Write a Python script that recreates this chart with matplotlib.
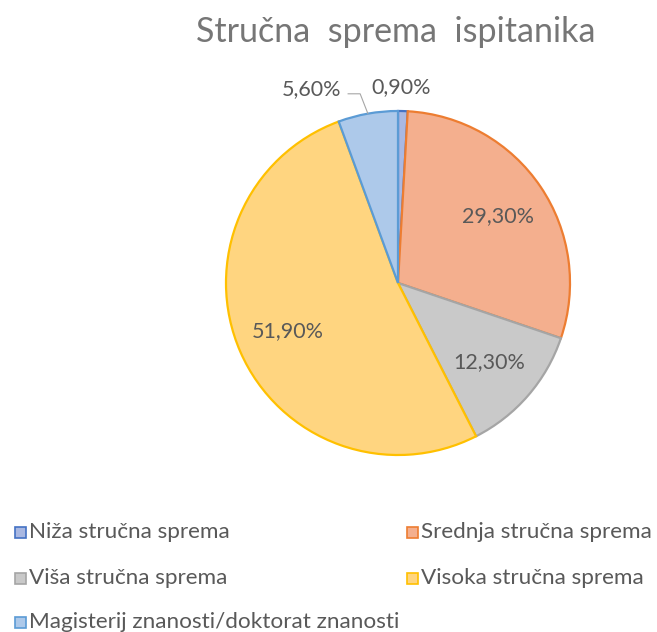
"""Stručna sprema ispitanika - pie chart."""

import matplotlib.pyplot as plt
import numpy as np
from matplotlib.patches import Rectangle

plt.rcParams["font.family"] = ["Lato", "DejaVu Sans"]

categories = [
    "Niža stručna sprema",
    "Srednja stručna sprema",
    "Viša stručna sprema",
    "Visoka stručna sprema",
    "Magisterij znanosti/doktorat znanosti",
]
values = [0.9, 29.3, 12.3, 51.9, 5.6]
labels = ["0,90%", "29,30%", "12,30%", "51,90%", "5,60%"]

fills = ["#A9B8E2", "#F4AF8E", "#C9C9C9", "#FFD580", "#ADC9EA"]
edges = ["#4472C4", "#ED7D31", "#A5A5A5", "#FFC000", "#5B9BD5"]
text_col = "#595959"

W, H = 657, 632
fig = plt.figure(figsize=(W / 100, H / 100), dpi=100)

cx, cy, r = 398, 283, 172
ax = fig.add_axes([(cx - r) / W, 1 - (cy + r) / H, 2 * r / W, 2 * r / H])
wedges, _ = ax.pie(values, colors=fills, startangle=90, counterclock=False,
                   radius=1.0, wedgeprops=dict(linewidth=1.6))
for w, ec in zip(wedges, edges):
    w.set_edgecolor(ec)
ax.set_xlim(-1, 1)
ax.set_ylim(-1, 1)
ax.set_aspect("equal")
ax.axis("off")

fs = 15.5

# inside labels
for i in (1, 2, 3):
    w = wedges[i]
    mid = np.deg2rad((w.theta1 + w.theta2) / 2)
    ax.text(0.70 * np.cos(mid), 0.70 * np.sin(mid), labels[i], ha="center",
            va="center", fontsize=fs, color=text_col)

# outside labels for small slices
ax.text(0.02, 1.14, labels[0], ha="center", va="center", fontsize=fs,
        color=text_col, clip_on=False)
w = wedges[4]
mid = np.deg2rad((w.theta1 + w.theta2) / 2)
ax.text(-0.50, 1.128, labels[4], ha="center", va="center", fontsize=fs,
        color=text_col, clip_on=False)
ax.plot([-0.29, -0.22, np.cos(mid)], [1.10, 1.10, np.sin(mid)],
        color="#A6A6A6", linewidth=0.8, clip_on=False)

fig.text(396 / W, 1 - 32 / H, "Stručna  sprema  ispitanika", ha="center",
         va="center", fontsize=24.5, color="#767676")

# legend
rows = [532, 578, 622]
cols = [15, 407]
for i, (cat, fc, ec) in enumerate(zip(categories, fills, edges)):
    x0 = cols[i % 2]
    y0 = rows[i // 2]
    fig.patches.append(Rectangle((x0 / W, 1 - (y0 + 5.5) / H), 11 / W, 11 / H,
                                 transform=fig.transFigure, facecolor=fc,
                                 edgecolor=ec, linewidth=1.2))
    fig.text((x0 + 14) / W, 1 - y0 / H, cat, ha="left", va="center",
             fontsize=16.2, color=text_col)

fig.savefig("out.png", dpi=100)
